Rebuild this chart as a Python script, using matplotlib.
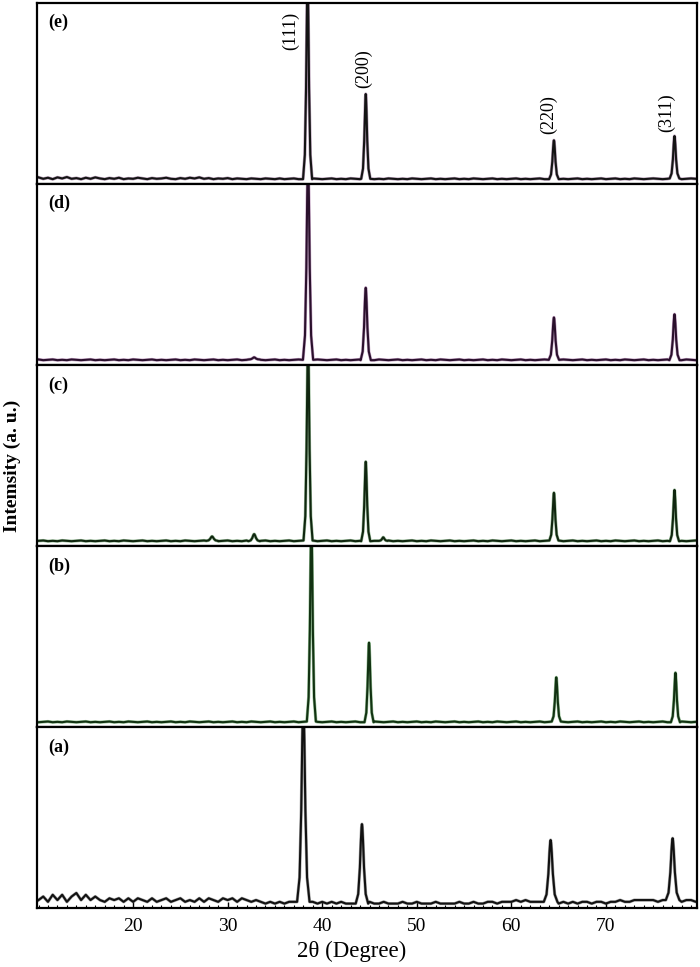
import matplotlib
matplotlib.use('Agg')
import matplotlib.pyplot as plt
from matplotlib.ticker import MultipleLocator
import numpy as np

plt.rcParams['font.family'] = ['Liberation Serif', 'DejaVu Serif']

# panels from top to bottom
panel_labels = ['(e)', '(d)', '(c)', '(b)', '(a)']
line_colors = ['#141414', '#2a102c', '#10260f', '#123212', '#111111']
glow_colors = ['#6b3a6b', '#8a4a8a', '#3f7f3f', '#3a8a3a', '#555555']

# peak positions (2theta), relative heights, half widths
peak_pos = [
    [38.45, 44.6, 64.5, 77.25],
    [38.5, 44.6, 64.5, 77.25, 32.8],
    [38.5, 44.6, 64.5, 77.25, 28.35, 32.8, 46.45],
    [38.85, 44.95, 64.75, 77.35],
    [38.0, 44.2, 64.15, 77.05],
]
peak_height = [
    [1.15, 0.48, 0.22, 0.24],
    [1.15, 0.41, 0.24, 0.26, 0.012],
    [1.15, 0.45, 0.27, 0.29, 0.025, 0.04, 0.02],
    [1.15, 0.45, 0.25, 0.28],
    [1.15, 0.45, 0.35, 0.35],
]
peak_hw = [
    [0.16, 0.16, 0.17, 0.17],
    [0.18, 0.18, 0.18, 0.18, 0.2],
    [0.16, 0.16, 0.16, 0.16, 0.2, 0.2, 0.15],
    [0.16, 0.16, 0.16, 0.16],
    [0.22, 0.22, 0.24, 0.24],
]

# peak outline, offsets in half widths
shape_off = [-3, -1.8, -1, -0.5, -0.2, 0, 0.2, 0.5, 1, 1.8, 3]
shape_val = [0.0, 0.12, 0.45, 0.8, 0.96, 1.0, 0.96, 0.8, 0.45, 0.12, 0.0]

# baselines (0.5 degree steps)
base_e = [0.012, 0.004, 0.010, 0.002, 0.012, 0.006, 0.014, 0.004, 0.008, 0.002,
          0.010, 0.004, 0.012, 0.006, 0.002, 0.008, 0.004, 0.010, 0.002, 0.006,
          0.004, 0.010, 0.006, 0.002, 0.008, 0.004, 0.006, 0.010, 0.004, 0.002,
          0.008, 0.004, 0.010, 0.006, 0.012, 0.004, 0.008, 0.002, 0.006, 0.004,
          0.008, 0.002, 0.006, 0.004, 0.002, 0.006, 0.004, 0.002, 0.006, 0.004,
          0.002, 0.006, 0.002, 0.004, 0.006, 0.002, 0.004, 0.002, 0.006, 0.004,
          0.002, 0.004, 0.006, 0.002, 0.004, 0.002, 0.006, 0.004, 0.002, 0.004,
          0.006, 0.002, 0.004, 0.002, 0.006, 0.004, 0.002, 0.004, 0.002, 0.006,
          0.004, 0.002, 0.004, 0.006, 0.002, 0.004, 0.002, 0.004, 0.006, 0.002,
          0.004, 0.002, 0.006, 0.004, 0.002, 0.004, 0.006, 0.002, 0.004, 0.002,
          0.004, 0.006, 0.002, 0.004, 0.002, 0.004, 0.006, 0.002, 0.004, 0.002,
          0.006, 0.004, 0.002, 0.004, 0.006, 0.002, 0.004, 0.002, 0.004, 0.006,
          0.002, 0.004, 0.006, 0.002, 0.004, 0.002, 0.006, 0.004, 0.002, 0.004,
          0.006, 0.004, 0.002, 0.004, 0.006, 0.004, 0.002, 0.004, 0.006, 0.004,
          0.004]
base_d = [0.006, 0.002, 0.004, 0.006, 0.002, 0.004, 0.002, 0.006, 0.004, 0.002,
          0.004, 0.006, 0.002, 0.004, 0.002, 0.004, 0.006, 0.002, 0.004, 0.002,
          0.006, 0.004, 0.002, 0.004, 0.006, 0.002, 0.004, 0.002, 0.004, 0.006,
          0.002, 0.004, 0.002, 0.006, 0.004, 0.002, 0.004, 0.006, 0.002, 0.004,
          0.002, 0.004, 0.006, 0.002, 0.004, 0.002, 0.006, 0.004, 0.002, 0.004,
          0.006, 0.002, 0.004, 0.002, 0.004, 0.006, 0.002, 0.004, 0.002, 0.006,
          0.004, 0.002, 0.004, 0.006, 0.002, 0.004, 0.002, 0.004, 0.006, 0.002,
          0.004, 0.002, 0.006, 0.004, 0.002, 0.004, 0.006, 0.002, 0.004, 0.002,
          0.004, 0.006, 0.002, 0.004, 0.002, 0.006, 0.004, 0.002, 0.004, 0.006,
          0.002, 0.004, 0.002, 0.004, 0.006, 0.002, 0.004, 0.002, 0.006, 0.004,
          0.002, 0.004, 0.006, 0.002, 0.004, 0.002, 0.004, 0.006, 0.002, 0.004,
          0.002, 0.006, 0.004, 0.002, 0.004, 0.006, 0.002, 0.004, 0.002, 0.004,
          0.006, 0.002, 0.004, 0.002, 0.006, 0.004, 0.002, 0.004, 0.006, 0.002,
          0.004, 0.002, 0.004, 0.006, 0.002, 0.004, 0.002, 0.006, 0.004, 0.002,
          0.004]
base_c = [0.004, 0.006, 0.002, 0.004, 0.002, 0.006, 0.004, 0.002, 0.004, 0.006,
          0.002, 0.004, 0.002, 0.004, 0.006, 0.002, 0.004, 0.002, 0.006, 0.004,
          0.002, 0.004, 0.006, 0.002, 0.004, 0.002, 0.004, 0.006, 0.002, 0.004,
          0.002, 0.006, 0.004, 0.002, 0.004, 0.006, 0.002, 0.004, 0.002, 0.004,
          0.006, 0.002, 0.004, 0.002, 0.006, 0.004, 0.002, 0.004, 0.006, 0.002,
          0.004, 0.002, 0.004, 0.006, 0.002, 0.004, 0.002, 0.006, 0.004, 0.002,
          0.004, 0.006, 0.002, 0.004, 0.002, 0.004, 0.006, 0.002, 0.004, 0.002,
          0.006, 0.004, 0.002, 0.004, 0.006, 0.002, 0.004, 0.002, 0.004, 0.006,
          0.002, 0.004, 0.002, 0.006, 0.004, 0.002, 0.004, 0.006, 0.002, 0.004,
          0.002, 0.004, 0.006, 0.002, 0.004, 0.002, 0.006, 0.004, 0.002, 0.004,
          0.006, 0.002, 0.004, 0.002, 0.004, 0.006, 0.002, 0.004, 0.002, 0.006,
          0.004, 0.002, 0.004, 0.006, 0.002, 0.004, 0.002, 0.004, 0.006, 0.002,
          0.004, 0.002, 0.006, 0.004, 0.002, 0.004, 0.006, 0.002, 0.004, 0.002,
          0.004, 0.006, 0.002, 0.004, 0.002, 0.006, 0.004, 0.002, 0.004, 0.006,
          0.004]
base_b = [0.002, 0.004, 0.006, 0.002, 0.004, 0.002, 0.006, 0.004, 0.002, 0.004,
          0.006, 0.002, 0.004, 0.002, 0.004, 0.006, 0.002, 0.004, 0.002, 0.006,
          0.004, 0.002, 0.004, 0.006, 0.002, 0.004, 0.002, 0.004, 0.006, 0.002,
          0.004, 0.002, 0.006, 0.004, 0.002, 0.004, 0.006, 0.002, 0.004, 0.002,
          0.004, 0.006, 0.002, 0.004, 0.002, 0.006, 0.004, 0.002, 0.004, 0.006,
          0.002, 0.004, 0.002, 0.004, 0.006, 0.002, 0.004, 0.002, 0.006, 0.004,
          0.002, 0.004, 0.006, 0.002, 0.004, 0.002, 0.004, 0.006, 0.002, 0.004,
          0.002, 0.006, 0.004, 0.002, 0.004, 0.006, 0.002, 0.004, 0.002, 0.004,
          0.006, 0.002, 0.004, 0.002, 0.006, 0.004, 0.002, 0.004, 0.006, 0.002,
          0.004, 0.002, 0.004, 0.006, 0.002, 0.004, 0.002, 0.006, 0.004, 0.002,
          0.004, 0.006, 0.002, 0.004, 0.002, 0.004, 0.006, 0.002, 0.004, 0.002,
          0.006, 0.004, 0.002, 0.004, 0.006, 0.002, 0.004, 0.002, 0.004, 0.006,
          0.002, 0.004, 0.002, 0.006, 0.004, 0.002, 0.004, 0.006, 0.002, 0.004,
          0.002, 0.004, 0.006, 0.002, 0.004, 0.002, 0.006, 0.004, 0.002, 0.004,
          0.006]
base_a = [0.02, 0.04, 0.01, 0.05, 0.02, 0.05, 0.01, 0.04, 0.06, 0.02,
          0.05, 0.02, 0.04, 0.02, 0.01, 0.03, 0.02, 0.03, 0.01, 0.03,
          0.01, 0.03, 0.02, 0.01, 0.03, 0.01, 0.02, 0.03, 0.01, 0.02,
          0.03, 0.01, 0.02, 0.01, 0.03, 0.01, 0.03, 0.02, 0.01, 0.03,
          0.02, 0.03, 0.01, 0.03, 0.02, 0.01, 0.02, 0.01, 0.00, 0.01,
          0.00, 0.01, 0.00, 0.01, 0.01, 0.01, 0.01, 0.00, 0.01, 0.00,
          0.01, 0.00, 0.01, 0.00, 0.01, 0.00, 0.00, 0.01, 0.00, 0.00,
          0.01, 0.00, 0.00, 0.01, 0.00, 0.00, 0.00, 0.01, 0.00, 0.00,
          0.01, 0.00, 0.00, 0.00, 0.01, 0.00, 0.00, 0.00, 0.00, 0.01,
          0.00, 0.00, 0.01, 0.00, 0.00, 0.01, 0.01, 0.00, 0.01, 0.01,
          0.01, 0.02, 0.01, 0.02, 0.01, 0.01, 0.01, 0.00, 0.01, 0.00,
          0.00, 0.01, 0.00, 0.01, 0.00, 0.01, 0.01, 0.00, 0.01, 0.01,
          0.00, 0.01, 0.01, 0.02, 0.01, 0.01, 0.02, 0.02, 0.02, 0.02,
          0.02, 0.01, 0.02, 0.01, 0.02, 0.02, 0.01, 0.02, 0.02, 0.01,
          0.02]
baselines = [base_e, base_d, base_c, base_b, base_a]

# hkl labels on panel (e): text, x, y
hkl_text = ['(111)', '(200)', '(220)', '(311)']
hkl_x = [36.7, 44.4, 63.9, 76.4]
hkl_y = [0.84, 0.63, 0.37, 0.38]

xmin, xmax = 9.85, 79.65


def pattern(base, pos, hgt, hw):
    step = 70.0 / (len(base) - 1)
    grid = 10 + step * np.arange(len(base))
    xs, ys = [], []
    for g, b in zip(grid, base):
        if all(abs(g - p) > 3.2 * w for p, w in zip(pos, hw)):
            xs.append(g)
            ys.append(b)
    for p, h, w in zip(pos, hgt, hw):
        b0 = base[int(round((p - 10) / step))]
        for o, v in zip(shape_off, shape_val):
            xs.append(p + o * w)
            ys.append(b0 + h * v)
    order = np.argsort(xs)
    return np.array(xs)[order], np.array(ys)[order]


fig, axes = plt.subplots(5, 1, figsize=(7, 9.67), dpi=100, sharex=True)
fig.subplots_adjust(left=0.053, right=0.996, top=0.997, bottom=0.061, hspace=0)

for i, ax in enumerate(axes):
    x, y = pattern(baselines[i], peak_pos[i], peak_height[i], peak_hw[i])
    ax.plot(x, y, color=glow_colors[i], lw=2.3, alpha=0.5, solid_joinstyle='round')
    ax.plot(x, y, color=line_colors[i], lw=1.5, solid_joinstyle='round')
    ax.set_ylim(-0.025, 1.0)
    ax.set_xlim(xmin, xmax)
    ax.set_yticks([])
    for s in ax.spines.values():
        s.set_linewidth(1.6)
    ax.text(0.017, 0.89, panel_labels[i], transform=ax.transAxes, fontsize=13,
            fontweight='bold', ha='left', va='center')
    ax.tick_params(axis='x', which='both', bottom=False, labelbottom=False)

for t, hx, hy in zip(hkl_text, hkl_x, hkl_y):
    axes[0].text(hx, hy, t, rotation=90, fontsize=13, ha='center', va='center')

axb = axes[-1]
axb.set_xticks([20, 30, 40, 50, 60, 70])
axb.xaxis.set_minor_locator(MultipleLocator(1))
axb.tick_params(axis='x', which='both', bottom=True, labelbottom=True,
                direction='in', labelsize=14)
axb.tick_params(axis='x', which='major', length=4, width=1, pad=7)
axb.tick_params(axis='x', which='minor', length=2.5, width=0.8)
axb.set_xlabel('2θ (Degree)', fontsize=16.5)
axb.xaxis.set_label_coords(0.477, -0.18)

fig.text(0.018, 0.518, 'Intemsity (a. u.)', rotation=90, fontsize=14,
         fontweight='bold', ha='center', va='center')

fig.savefig('out.png', dpi=100)
